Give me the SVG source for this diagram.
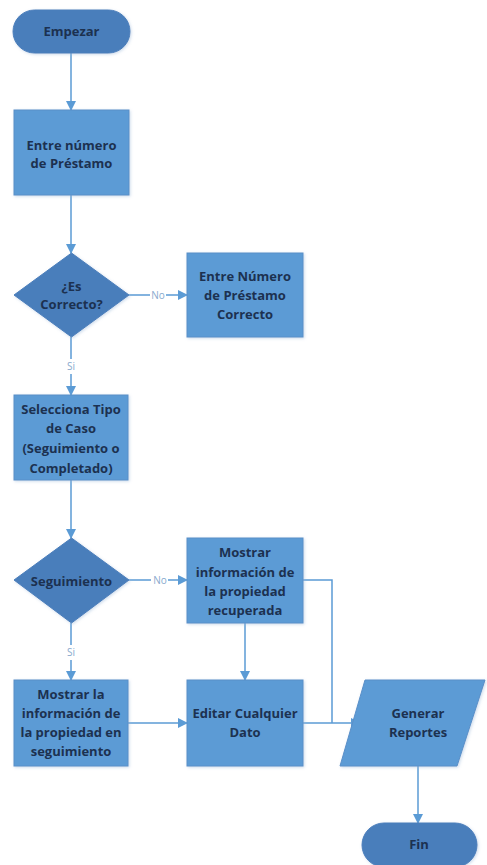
<svg xmlns="http://www.w3.org/2000/svg" width="487" height="865" viewBox="0 0 487 865">
<defs>
<marker id="ah" markerWidth="10" markerHeight="10" refX="9" refY="5" orient="auto" markerUnits="userSpaceOnUse">
<path d="M0,0 L10,5 L0,10 z" fill="#5b9bd5"/>
</marker>
<filter id="sh" x="-10%" y="-10%" width="120%" height="120%">
<feGaussianBlur in="SourceAlpha" stdDeviation="1.5"/>
<feOffset dx="1" dy="1" result="b"/>
<feFlood flood-color="#9cb8d8" flood-opacity="0.5"/>
<feComposite in2="b" operator="in"/>
<feMerge><feMergeNode/><feMergeNode in="SourceGraphic"/></feMerge>
</filter>
<style>
.box{fill:#5b9bd5;stroke:#5a8fc8;stroke-width:1;filter:url(#sh)}
.dark{fill:#4a7ebb;stroke:#4a7ebb;stroke-width:1;filter:url(#sh)}
.t{font-family:"Open Sans","Liberation Sans",sans-serif;font-weight:bold;font-size:13px;fill:#1c3150;text-anchor:middle}
.c{fill:none;stroke:#5b9bd5;stroke-width:1.5}
.lbl{font-family:"Open Sans","Liberation Sans",sans-serif;font-size:10px;fill:#88aace;text-anchor:middle}
</style>
</defs>
<g id="connectors">
<path class="c" d="M71,53 V110" marker-end="url(#ah)"/>
<path class="c" d="M71,195 V253" marker-end="url(#ah)"/>
<path class="c" d="M129,295 H150 M166,295 H187" marker-end="url(#ah)"/>
<path class="c" d="M71,337 V359 M71,374 V395" marker-end="url(#ah)"/>
<path class="c" d="M71,480 V538" marker-end="url(#ah)"/>
<path class="c" d="M129,580 H151 M168,580 H187" marker-end="url(#ah)"/>
<path class="c" d="M71,623 V645 M71,660 V680" marker-end="url(#ah)"/>
<path class="c" d="M245,623 V680" marker-end="url(#ah)"/>
<path class="c" d="M128,723 H187" marker-end="url(#ah)"/>
<path class="c" d="M303,723 H360" marker-end="url(#ah)"/>
<path class="c" d="M303,580 H332 V723"/>
<path class="c" d="M418,766 V823" marker-end="url(#ah)"/>
<text class="lbl" x="158" y="299">No</text>
<text class="lbl" x="71" y="370">Si</text>
<text class="lbl" x="160" y="584">No</text>
<text class="lbl" x="71" y="656">Si</text>
</g>
<g id="empezar">
<rect class="dark" x="13" y="10" width="117" height="43" rx="21.5"/>
<text class="t" x="71.5" y="36">Empezar</text>
</g>
<g id="entre-numero">
<rect class="box" x="14" y="110" width="115" height="85"/>
<text class="t" x="71.5" y="150">Entre número</text>
<text class="t" x="71.5" y="168">de Préstamo</text>
</g>
<g id="es-correcto">
<polygon class="dark" points="71.5,253 129,295 71.5,337 14,295"/>
<text class="t" x="71.5" y="291">¿Es</text>
<text class="t" x="71.5" y="309">Correcto?</text>
</g>
<g id="entre-numero-correcto">
<rect class="box" x="187" y="253" width="116" height="84"/>
<text class="t" x="245" y="281">Entre Número</text>
<text class="t" x="245" y="300">de Préstamo</text>
<text class="t" x="245" y="319">Correcto</text>
</g>
<g id="selecciona-tipo">
<rect class="box" x="14" y="395" width="114" height="85"/>
<text class="t" x="71" y="414">Selecciona Tipo</text>
<text class="t" x="71" y="433">de Caso</text>
<text class="t" x="71" y="453">(Seguimiento o</text>
<text class="t" x="71" y="473">Completado)</text>
</g>
<g id="seguimiento">
<polygon class="dark" points="71.5,538 129,580 71.5,623 14,580"/>
<text class="t" x="71.5" y="586">Seguimiento</text>
</g>
<g id="mostrar-recuperada">
<rect class="box" x="187" y="538" width="116" height="85"/>
<text class="t" x="245" y="557">Mostrar</text>
<text class="t" x="245" y="577">información de</text>
<text class="t" x="245" y="596">la propiedad</text>
<text class="t" x="245" y="615">recuperada</text>
</g>
<g id="mostrar-seguimiento">
<rect class="box" x="14" y="680" width="114" height="86"/>
<text class="t" x="71" y="699">Mostrar la</text>
<text class="t" x="71" y="718">información de</text>
<text class="t" x="71" y="737">la propiedad en</text>
<text class="t" x="71" y="756">seguimiento</text>
</g>
<g id="editar">
<rect class="box" x="187" y="680" width="116" height="86"/>
<text class="t" x="245" y="718">Editar Cualquier</text>
<text class="t" x="245" y="737">Dato</text>
</g>
<g id="generar-reportes">
<polygon class="box" points="365,680 485,680 457,766 340,766"/>
<text class="t" x="418" y="718">Generar</text>
<text class="t" x="418" y="737">Reportes</text>
</g>
<g id="fin">
<rect class="dark" x="362" y="823" width="115" height="44" rx="22"/>
<text class="t" x="419" y="849">Fin</text>
</g>
</svg>
